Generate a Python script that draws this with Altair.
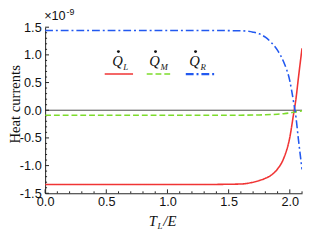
import altair as alt
import pandas as pd

# ---- data ----
x_vals = [0.0, 0.5, 1.0, 1.4, 1.5, 1.6, 1.7, 1.75, 1.8, 1.85, 1.9, 1.95, 2.0, 2.03, 2.05, 2.07, 2.1]
q_left = [-1.34, -1.34, -1.34, -1.34, -1.337, -1.333, -1.30, -1.27, -1.23, -1.17, -1.06, -0.87, -0.49, -0.08, 0.20, 0.58, 1.12]
q_mid = [-0.09, -0.09, -0.09, -0.09, -0.09, -0.089, -0.087, -0.085, -0.082, -0.078, -0.072, -0.062, -0.048, -0.037, -0.03, -0.022, -0.01]
q_right = [1.44, 1.44, 1.44, 1.44, 1.438, 1.435, 1.41, 1.38, 1.32, 1.22, 1.08, 0.87, 0.53, 0.16, -0.12, -0.52, -1.07]

series = ["L", "M", "R"]
colors = ["#f03434", "#7ddc2c", "#2259f0"]
dashes = [[1, 0], [6, 3], [8, 3, 2, 3]]
widths = [1.6, 1.6, 2.2]

y_major = [-1.5, -1.0, -0.5, 0.0, 0.5, 1.0, 1.5]
y_minor = [-1.4, -1.3, -1.2, -1.1, -0.9, -0.8, -0.7, -0.6, -0.4, -0.3, -0.2, -0.1,
           0.1, 0.2, 0.3, 0.4, 0.6, 0.7, 0.8, 0.9, 1.1, 1.2, 1.3, 1.4]
x_major = [0.0, 0.5, 1.0, 1.5, 2.0]
x_minor = [0.1, 0.2, 0.3, 0.4, 0.6, 0.7, 0.8, 0.9, 1.1, 1.2, 1.3, 1.4, 1.6, 1.7, 1.8, 1.9, 2.1]

rows = []
for name, vals in zip(series, [q_left, q_mid, q_right]):
    for xv, yv in zip(x_vals, vals):
        rows.append({"x": xv, "y": yv, "s": name})
df = pd.DataFrame(rows)

W, H = 263, 170
xs = alt.Scale(domain=[0, 2.1], nice=False, zero=False)
ys = alt.Scale(domain=[-1.5, 1.5], nice=False, zero=False)

neg_fmt = "datum.value < 0 ? '-' + format(-datum.value, '.1f') : format(datum.value, '.1f')"
axis_common = dict(title=None, ticks=False, grid=False, labelExpr=neg_fmt, labelFontSize=13,
                   labelFont="Liberation Sans", labelColor="#111", domainColor="#222",
                   labelOverlap=False, labelFlush=False, labelBound=False)
x_axis = alt.Axis(values=x_major, labelPadding=3, **axis_common)
y_axis = alt.Axis(values=y_major, labelPadding=4, **axis_common)

lines = alt.Chart(df).mark_line(interpolate="monotone", clip=True).encode(
    x=alt.X("x:Q", scale=xs, axis=x_axis),
    y=alt.Y("y:Q", scale=ys, axis=y_axis),
    color=alt.Color("s:N", scale=alt.Scale(domain=series, range=colors), legend=None),
    strokeDash=alt.StrokeDash("s:N", scale=alt.Scale(domain=series, range=dashes), legend=None),
    size=alt.Size("s:N", scale=alt.Scale(domain=series, range=widths), legend=None),
)

zero = alt.Chart(pd.DataFrame({"y": [0.0]})).mark_rule(color="#333", strokeWidth=0.9).encode(
    y=alt.Y("y:Q", scale=ys, axis=y_axis))

def tick_rules(vals, axis, length):
    d = pd.DataFrame({"v": vals})
    if axis == "y":
        return alt.Chart(d).mark_rule(color="#222", strokeWidth=1).encode(
            y=alt.Y("v:Q", scale=ys, axis=y_axis), x=alt.value(0), x2=alt.value(length))
    return alt.Chart(d).mark_rule(color="#222", strokeWidth=1).encode(
        x=alt.X("v:Q", scale=xs, axis=x_axis), y=alt.value(H), y2=alt.value(H - length))

dummy = pd.DataFrame({"a": [0]})

def label(text, px, py, size, italic=True, font="Liberation Serif", align="left", angle=0):
    kw = dict(text=text, fontSize=size, font=font, align=align, baseline="alphabetic",
              color="#111")
    if italic:
        kw["fontStyle"] = "italic"
    if angle:
        kw["angle"] = angle
    return alt.Chart(dummy).mark_text(**kw).encode(x=alt.value(px), y=alt.value(py))

# custom legend
leg_q = [74, 112, 153]
leg_line = [(61, 90), (104, 131), (144, 176)]
legend_layers = []
for i, name in enumerate(series):
    legend_layers.append(label("Q", leg_q[i], 40, 15, align="center"))
    legend_layers.append(alt.Chart(dummy).mark_point(filled=True, size=9, color="#111", opacity=1)
                         .encode(x=alt.value(leg_q[i] + 1), y=alt.value(25)))
    legend_layers.append(label(name, leg_q[i] + 6, 44, 9))
    legend_layers.append(alt.Chart(dummy).mark_rule(color=colors[i], strokeDash=dashes[i],
                                                     strokeWidth=widths[i])
                         .encode(x=alt.value(leg_line[i][0]), x2=alt.value(leg_line[i][1]),
                                 y=alt.value(48)))

texts = [
    label("Heat currents", -26, 79, 15, italic=False, align="center", angle=270),
    label("T", 106, 204, 15),
    label("L", 115, 207, 9),
    label("/E", 121, 204, 15),
    label("×10", -1, -7, 13, italic=False, font="Liberation Sans"),
    label("-9", 22, -12, 9, italic=False, font="Liberation Sans"),
]

chart = alt.layer(
    zero,
    tick_rules(y_major, "y", 4), tick_rules(y_minor, "y", 2),
    tick_rules(x_major, "x", 4), tick_rules(x_minor, "x", 2),
    lines,
    *legend_layers,
    *texts,
).properties(
    width=W, height=H,
    autosize=alt.AutoSizeParams(type="none"),
    padding={"left": 38, "top": 17, "right": 2, "bottom": 37},
).configure_view(stroke=None)

chart.save("out.html", embed_options={"renderer": "svg", "actions": False})
